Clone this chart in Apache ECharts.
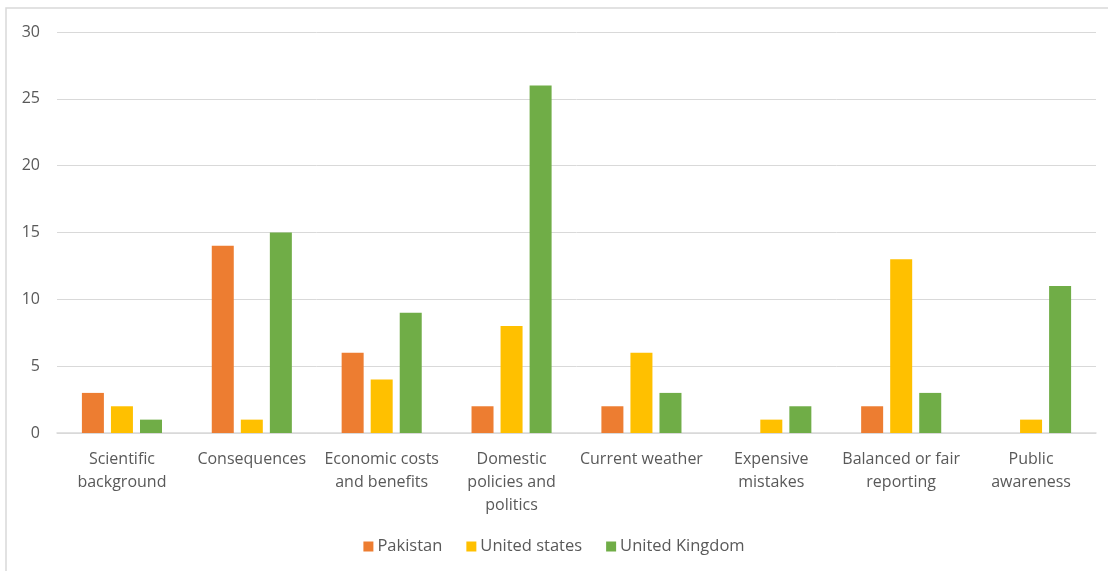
<!DOCTYPE html>
<html><head><meta charset="utf-8">
<script src="https://cdn.jsdelivr.net/npm/echarts@6/dist/echarts.min.js"></script>
<style>html,body{margin:0;padding:0;background:#fff}#c{width:1108px;height:571px}</style>
</head><body><div id="c"></div>
<script>
const categories = ["Scientific\nbackground","Consequences","Economic costs\nand benefits","Domestic\npolicies and\npolitics","Current weather","Expensive\nmistakes","Balanced or fair\nreporting","Public\nawareness"];
const pakistan = [3,14,6,2,2,0,2,0];
const unitedStates = [2,1,4,8,6,1,13,1];
const unitedKingdom = [1,15,9,26,3,2,3,11];
const yTicks = [0,5,10,15,20,25,30];

const font = "'Open Sans', 'Liberation Sans', sans-serif";
const chart = echarts.init(document.getElementById('c'), null, {renderer:'canvas'});
function bar(name, data, color){
  return {name, type:'bar', data: data.map(v => v === 0 ? null : v), barWidth:22, barGap:'32%', barCategoryGap:'38%',
    itemStyle:{color}};
}
chart.setOption({
  animation:false,
  graphic:[{type:'rect', shape:{x:6,y:8,width:1120,height:600}, style:{fill:'none', stroke:'#D9D9D9', lineWidth:1.5}, silent:true}],
  grid:{left:57, right:12, top:32, bottom:138, containLabel:false},
  legend:{bottom:11, left:'center', itemWidth:10, itemHeight:10, itemGap:24, icon:'rect',
    textStyle:{color:'#595959', fontSize:16.5, fontFamily:font, padding:[0,0,0,-1]},
    data:['Pakistan','United states','United Kingdom']},
  xAxis:{type:'category', data:categories,
    axisLine:{lineStyle:{color:'#D9D9D9', width:1.5}}, axisTick:{show:false},
    axisLabel:{color:'#595959', fontSize:16, fontFamily:font, lineHeight:23, margin:15, interval:0}},
  yAxis:{type:'value', min:0, max:30, interval:5,
    axisLine:{show:false}, axisTick:{show:false},
    splitLine:{lineStyle:{color:'#D9D9D9', width:1}},
    axisLabel:{color:'#595959', fontSize:16, fontFamily:font, margin:17,
      formatter: v => yTicks.includes(v) ? String(v) : ''}},
  series:[bar('Pakistan', pakistan, '#ED7D31'), bar('United states', unitedStates, '#FFC000'), bar('United Kingdom', unitedKingdom, '#70AD47')]
});
</script></body></html>
